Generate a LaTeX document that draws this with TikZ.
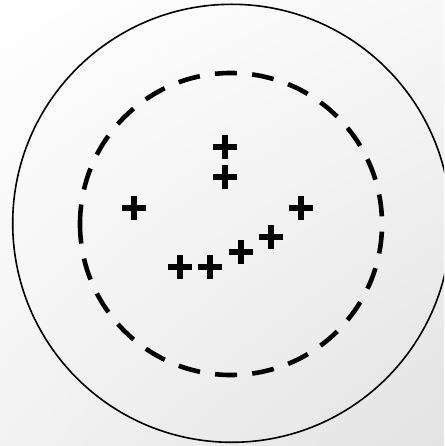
\documentclass[tikz,border=0pt]{standalone}
\usetikzlibrary{shadings}
\begin{document}
\begin{tikzpicture}[x=1pt,y=-1pt,
  outerring/.style={draw=black,line width=1.6pt},
  dashring/.style={draw=black,line width=4.6pt,dash pattern=on 22pt off 15.27pt,dash phase=2.5pt},
  plusline/.style={draw=black,line width=6pt}]
\useasboundingbox (0,0) rectangle (444,446);
\clip (0,0) rectangle (444,446);
\shade[upper left=white,upper right=black!3,lower left=black!5,lower right=black!11] (0,0) rectangle (444,446);
% outer circle
\draw[outerring] (231.7,223.3) circle[radius=219];
% dashed circle, starting at its left point
\coordinate (dc) at (231,224);
\draw[dashring] ([shift={(180:151)}]dc) arc[start angle=180,end angle=540,radius=151];
% plus marks
\foreach \px/\py in {225/146.7,225/177.3,134.3/207.7,300.7/207.7,270.7/237.3,240.7/252.3,210/267.3,179.7/267.3}{
  \draw[plusline] (\px-12,\py) -- (\px+12,\py) (\px,\py-12) -- (\px,\py+12);
}
\end{tikzpicture}
\end{document}
